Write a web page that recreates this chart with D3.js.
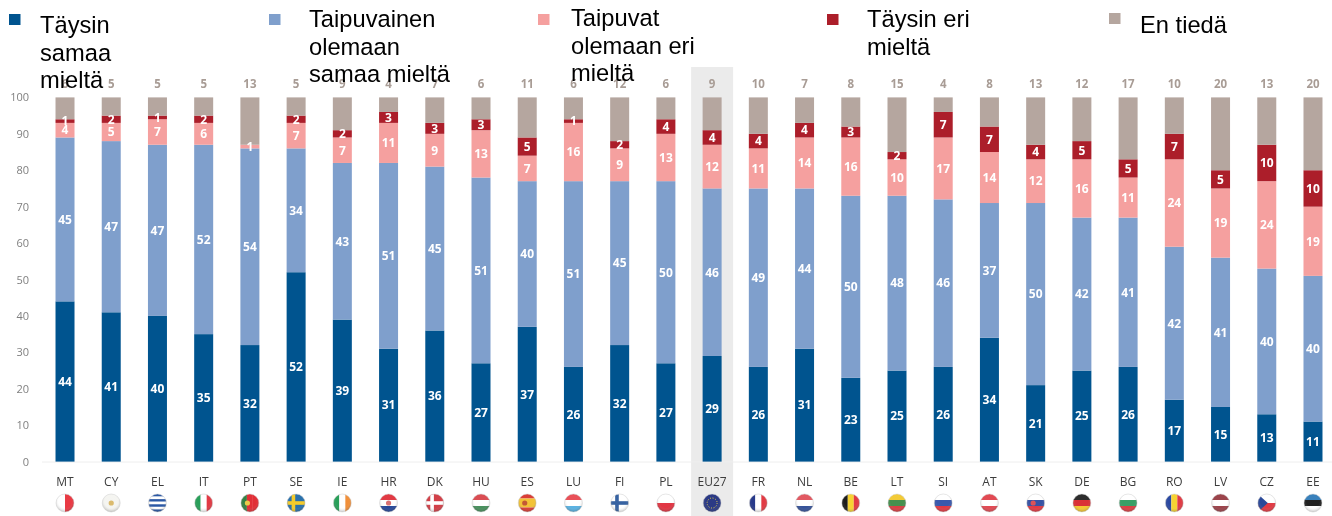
<!DOCTYPE html>
<html><head><meta charset="utf-8">
<script src="https://cdn.jsdelivr.net/npm/d3@7"></script>
<style>html,body{margin:0;padding:0;background:#fff;overflow:hidden}svg{display:block;filter:blur(0.35px)}</style>
</head><body><div id="chart"></div>
<script>
const countries=["MT","CY","EL","IT","PT","SE","IE","HR","DK","HU","ES","LU","FI","PL","EU27","FR","NL","BE","LT","SI","AT","SK","DE","BG","RO","LV","CZ","EE"];
const totallyAgree=[44,41,40,35,32,52,39,31,36,27,37,26,32,27,29,26,31,23,25,26,34,21,25,26,17,15,13,11];
const tendAgree=[45,47,47,52,54,34,43,51,45,51,40,51,45,50,46,49,44,50,48,46,37,50,42,41,42,41,40,40];
const tendDisagree=[4,5,7,6,1,7,7,11,9,13,7,16,9,13,12,11,14,16,10,17,14,12,16,11,24,19,24,19];
const totallyDisagree=[1,2,1,2,0,2,2,3,3,3,5,1,2,4,4,4,4,3,2,7,7,4,5,5,7,5,10,10];
const dontKnow=[6,5,5,5,13,5,9,4,7,6,11,6,12,6,9,10,7,8,15,4,8,13,12,17,10,20,13,20];
const seriesNames=["Täysin samaa mieltä","Taipuvainen olemaan samaa mieltä","Taipuvat olemaan eri mieltä","Täysin eri mieltä","En tiedä"];
const seriesValues=[totallyAgree,tendAgree,tendDisagree,totallyDisagree,dontKnow];
const seriesColors=["#00548f","#7f9fcc","#f5a09f","#ac1e2a","#b5a69f"];
const yTicks=[0,10,20,30,40,50,60,70,80,90,100];
// Flag stripes: d = stripe direction, c = colours, x = optional Nordic cross colour
const flags={MT:{d:"v",c:["#fff","#e8303a"]},CY:{d:"h",c:["#f4f4f0"],e:"#d9b766"},EL:{d:"h",c:["#1f4fa0","#fff","#1f4fa0","#fff","#1f4fa0","#fff","#1f4fa0"]},IT:{d:"v",c:["#1d9a50","#fff","#e0303a"]},PT:{d:"v",c:["#2a7a3a","#e0242c","#e0242c"],e:"#e8c840"},SE:{d:"h",c:["#1f6aa8"],x:"#f4c820"},IE:{d:"v",c:["#1d9a50","#fff","#f08a30"]},HR:{d:"h",c:["#e0303a","#fff","#1c3f94"],e:"#d86a6a"},DK:{d:"h",c:["#d0363f"],x:"#fff"},HU:{d:"h",c:["#d8444a","#fff","#3f8a55"]},ES:{d:"h",c:["#d8342c","#f2c02c","#f2c02c","#d8342c"],e:"#c0502a"},LU:{d:"h",c:["#e8474f","#fff","#52aee0"]},FI:{d:"h",c:["#fff"],x:"#2c5a9c"},PL:{d:"h",c:["#fff","#e02c3a"]},EU27:{d:"h",c:["#20307f"],e:"#e8d040"},FR:{d:"v",c:["#1c2f84","#fff","#e0303a"]},NL:{d:"h",c:["#e0505a","#fff","#2c4a94"]},BE:{d:"v",c:["#111","#f6d028","#e0303a"]},LT:{d:"h",c:["#f2c82c","#3c8a45","#d8353a"]},SI:{d:"h",c:["#fff","#3050a8","#e0303a"]},AT:{d:"h",c:["#e0404a","#fff","#e0404a"]},SK:{d:"h",c:["#fff","#2c4aa0","#e0303a"],e:"#d84a50"},DE:{d:"h",c:["#222","#d8262c","#f4c428"]},BG:{d:"h",c:["#fff","#2e9a5e","#d8353a"]},RO:{d:"v",c:["#1f3f9c","#f6d028","#e0303a"]},LV:{d:"h",c:["#963a42","#fff","#963a42"]},CZ:{d:"h",c:["#fff","#e0303a"],t:"#1f3f94"},EE:{d:"h",c:["#2f7ab8","#151515","#fff"]}};

const W=1332,H=516;
const svg=d3.select("#chart").append("svg").attr("width",W).attr("height",H).attr("viewBox",[0,0,W,H]);
const defs=svg.append("defs");
const gloss=defs.append("radialGradient").attr("id","gloss").attr("cx","50%").attr("cy","40%").attr("r","60%");
gloss.append("stop").attr("offset","60%").attr("stop-color","#fff").attr("stop-opacity",0.05);
gloss.append("stop").attr("offset","100%").attr("stop-color","#333").attr("stop-opacity",0.3);

const x=d3.scaleBand().domain(countries).range([41.9,1336.1]).paddingInner(0.589).paddingOuter(0.2945);
const y=d3.scaleLinear().domain([0,100]).range([461.6,97.4]);
const cx=c=>x(c)+x.bandwidth()/2;
const sans="'Open Sans',sans-serif";

// EU27 highlight band
svg.append("rect").attr("x",cx("EU27")-21).attr("width",42).attr("y",67).attr("height",H-67).attr("fill","#ebebeb");

// baseline
svg.append("line").attr("x1",42).attr("x2",1332).attr("y1",y(0)+0.4).attr("y2",y(0)+0.4).attr("stroke","#eeeeee").attr("stroke-width",1);

// y axis
const yAxis=d3.axisLeft(y).tickValues(yTicks).tickSize(0).tickPadding(0);
const yg=svg.append("g").attr("transform","translate(29,0)").call(yAxis);
yg.select(".domain").remove();
yg.selectAll("text").attr("font-family",sans).attr("font-size",11).attr("fill","#808080");

// stacks
const rows=countries.map((c,i)=>{const o={country:c};seriesValues.forEach((s,k)=>o[k]=s[i]);return o;});
const stacked=d3.stack().keys(d3.range(5))(rows);
const groups=svg.selectAll("g.series").data(stacked).join("g").attr("class","series").attr("fill",(d,i)=>seriesColors[i]);
groups.selectAll("rect").data(d=>d.map(v=>({v,c:v.data.country}))).join("rect")
  .attr("x",d=>x(d.c)).attr("width",x.bandwidth())
  .attr("y",d=>y(Math.min(d.v[1],100))).attr("height",d=>Math.max(0,y(d.v[0])-y(Math.min(d.v[1],100))));

// value labels in the four coloured segments
stacked.slice(0,4).forEach(layer=>{
  svg.append("g").selectAll("text").data(layer.filter(v=>v[1]-v[0]>0)).join("text")
    .attr("x",d=>cx(d.data.country)).attr("y",d=>y((d[0]+d[1])/2)).attr("dy","0.36em")
    .attr("text-anchor","middle").attr("font-family",sans).attr("font-size",12).attr("font-weight",700).attr("fill","#fff")
    .text(d=>d[1]-d[0]);
});

// En tiedä values above the bars
svg.append("g").selectAll("text").data(countries).join("text")
  .attr("x",cx).attr("y",84).attr("dy","0.36em").attr("text-anchor","middle")
  .attr("font-family",sans).attr("font-size",11.5).attr("font-weight",700).attr("fill","#a89c95")
  .text((c,i)=>dontKnow[i]);

// country codes
svg.append("g").selectAll("text").data(countries).join("text")
  .attr("x",cx).attr("y",482).attr("dy","0.36em").attr("text-anchor","middle")
  .attr("font-family",sans).attr("font-size",12).attr("fill","#3c3c3c").text(c=>c);

// flags
const R=9;
const fg=svg.append("g").selectAll("g").data(countries).join("g").attr("transform",c=>`translate(${cx(c)},503)`);
fg.each(function(c,i){
  const g=d3.select(this),f=flags[c],id="clip"+i;
  defs.append("clipPath").attr("id",id).append("circle").attr("r",R);
  const inner=g.append("g").attr("clip-path",`url(#${id})`);
  const band=d3.scaleBand().domain(d3.range(f.c.length)).range([-R,R]);
  f.c.forEach((col,k)=>{
    inner.append("rect").attr("fill",col)
      .attr("x",f.d==="v"?band(k):-R).attr("y",f.d==="v"?-R:band(k))
      .attr("width",f.d==="v"?band.bandwidth():2*R).attr("height",f.d==="v"?2*R:band.bandwidth());
  });
  if(f.x){
    inner.append("rect").attr("x",-R).attr("y",-1.8).attr("width",2*R).attr("height",3.6).attr("fill",f.x);
    inner.append("rect").attr("x",-4.5).attr("y",-R).attr("width",3.6).attr("height",2*R).attr("fill",f.x);
  }
  if(f.t) inner.append("path").attr("d",`M${-R},${-R}L1,0L${-R},${R}Z`).attr("fill",f.t);
  if(f.e) inner.append("circle").attr("r",c==="EU27"?5:2.6).attr("cx",c==="PT"||c==="ES"||c==="SK"?-2.5:0)
    .attr("fill",c==="EU27"?"none":f.e).attr("stroke",c==="EU27"?f.e:"none").attr("stroke-dasharray",c==="EU27"?"1 1.6":null);
  g.append("circle").attr("r",R).attr("fill","url(#gloss)").attr("stroke","#cfcfcf").attr("stroke-width",0.5);
});

// legend (drawn last: it overlaps the top labels as in the reference)
const legendLines=[["Täysin","samaa","mieltä"],["Taipuvainen","olemaan","samaa mieltä"],["Taipuvat","olemaan eri","mieltä"],["Täysin eri","mieltä"],["En tiedä"]];
const legendSwatchX=[9,269,538,827,1109];
const legendSwatchY=[14,14,14,14,13];
const legendTextX=[40,309,571,867,1140];
const legendBaseY=[33,27,26,27,33];
const lg=svg.append("g");
seriesNames.forEach((n,i)=>{
  lg.append("rect").attr("x",legendSwatchX[i]).attr("y",legendSwatchY[i]).attr("width",11.5).attr("height",11).attr("fill",seriesColors[i]);
  const t=lg.append("text").attr("font-family","'Liberation Sans',Arial,sans-serif").attr("font-size",23.7).attr("fill","#000");
  legendLines[i].forEach((l,k)=>t.append("tspan").attr("x",legendTextX[i]).attr("y",legendBaseY[i]+k*27.5).text(l));
});
</script></body></html>
